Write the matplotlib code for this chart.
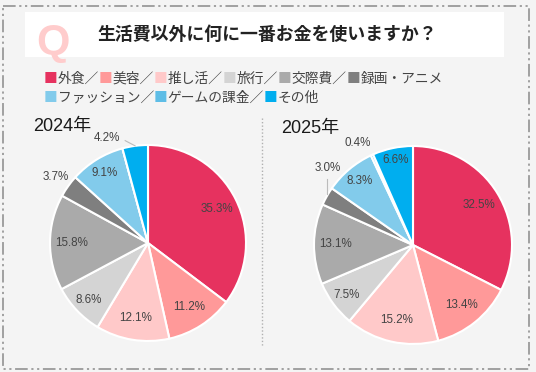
import numpy as np
import matplotlib
matplotlib.use("Agg")
import matplotlib.pyplot as plt
from matplotlib.patches import Rectangle

plt.rcParams['font.family'] = ['Noto Sans CJK JP', 'DejaVu Sans']

# ---------------- data ----------------
categories = ["外食", "美容", "推し活", "旅行", "交際費", "録画・アニメ",
              "ファッション", "ゲームの課金", "その他"]
colors = ["#e6325f", "#ff9999", "#ffc9c9", "#d4d4d4", "#aaaaaa", "#7f7f7f",
          "#82cbeb", "#5ebde6", "#00aeef"]
values_2024 = [35.3, 11.2, 12.1, 8.6, 15.8, 3.7, 9.1, 0.0, 4.2]
values_2025 = [32.5, 13.4, 15.2, 7.5, 13.1, 3.0, 8.3, 0.4, 6.6]
years = ["2024年", "2025年"]
title = "生活費以外に何に一番お金を使いますか？"

W, H = 536, 372
fig = plt.figure(figsize=(W / 100, H / 100), dpi=100, facecolor="#f4f4f4")
ov = fig.add_axes([0, 0, 1, 1])
ov.set_xlim(0, W)
ov.set_ylim(H, 0)
ov.axis("off")
ov.patch.set_alpha(0)

# border
bx0, by0, bx1, by1 = 3, 6, 529, 369
ov.add_patch(Rectangle((bx0, by0), bx1 - bx0, by1 - by0, fill=False,
                       edgecolor="#9a9a9a", lw=1.3,
                       linestyle=(0, (7, 2, 1.2, 2, 1.2, 2))))

# title box
ov.add_patch(Rectangle((25, 12), 479, 45, facecolor="white", edgecolor="none"))
ov.text(53, 43, "Q", fontsize=31, fontweight="bold", color="#ffcccc",
        ha="center", va="center", family=["Liberation Sans", "DejaVu Sans"])
ov.text(97, 35, title, fontsize=12.9, fontweight="bold", color="#222222",
        ha="left", va="center")

# legend
legend_lines = [list(range(0, 6)), list(range(6, 9))]
legend_y = [79, 98]
lfs = 9.9
for line, y in zip(legend_lines, legend_y):
    prev = None
    for j, i in enumerate(line):
        sep = "／" if j < len(line) - 1 else ""
        if prev is None:
            prev = ov.text(44, y, "■", color=colors[i], fontsize=lfs,
                           ha="left", va="center")
        else:
            prev = ov.annotate("■", xy=(1, 0), xycoords=prev, color=colors[i],
                               fontsize=lfs, ha="left", va="bottom")
        prev = ov.annotate(categories[i] + sep, xy=(1, 0), xycoords=prev,
                           color="#444444", fontsize=lfs, ha="left", va="bottom")

# divider
ov.plot([262, 262], [118, 347], color="#b0b0b0", lw=1.0, linestyle=(0, (1, 1.5)))

# pies
pie_specs = [
    dict(vals=values_2024, cx=148, cy=243, r=98, year=years[0], ylab=(33, 126)),
    dict(vals=values_2025, cx=413, cy=245, r=99, year=years[1], ylab=(281, 129)),
]
lab_fs = 8.4
lab_family = ["Liberation Sans", "DejaVu Sans"]

for k, spec in enumerate(pie_specs):
    cx, cy, r = spec["cx"], spec["cy"], spec["r"]
    ax = fig.add_axes([(cx - r) / W, (H - cy - r) / H, 2 * r / W, 2 * r / H])
    wedges, _ = ax.pie(spec["vals"], colors=colors, startangle=90,
                       counterclock=False, radius=1,
                       wedgeprops=dict(edgecolor="white", linewidth=1.5))
    ax.set_xlim(-1, 1)
    ax.set_ylim(-1, 1)
    ax.set_aspect("equal")
    ax.axis("off")
    ov.text(spec["ylab"][0], spec["ylab"][1], spec["year"], fontsize=13,
            color="#1a1a1a", ha="left", va="center",
            family=lab_family + ["Noto Sans CJK JP"])

    for i, (w, v) in enumerate(zip(wedges, spec["vals"])):
        if v <= 0:
            continue
        mid = np.deg2rad((w.theta1 + w.theta2) / 2)
        txt = f"{v:.1f}%"
        if k == 0 and i == 5:
            ax.text(1.16 * np.cos(mid), 1.16 * np.sin(mid), txt, fontsize=lab_fs,
                    color="#444444", ha="center", va="center", family=lab_family)
        elif k == 0 and i == 8:
            a2 = mid + np.deg2rad(14)
            ax.text(1.15 * np.cos(a2), 1.15 * np.sin(a2), txt, fontsize=lab_fs,
                    color="#444444", ha="center", va="center", family=lab_family)
            a3 = mid + np.deg2rad(5)
            ax.plot([np.cos(mid), 1.07 * np.cos(a3)], [np.sin(mid), 1.07 * np.sin(a3)],
                    color="#bbbbbb", lw=0.8, clip_on=False)
        elif k == 1 and i == 5:
            x0, y0 = np.cos(mid), 1.04 * np.sin(mid)
            ax.plot([x0, x0], [y0, y0 + 0.15], color="#bbbbbb", lw=0.8, clip_on=False)
            ax.text(x0 + 0.01, y0 + 0.27, txt, fontsize=lab_fs, color="#444444",
                    ha="center", va="center", family=lab_family)
        elif k == 1 and i == 7:
            a2 = mid + np.deg2rad(4)
            ax.text(1.17 * np.cos(a2), 1.17 * np.sin(a2), txt, fontsize=lab_fs,
                    color="#444444", ha="center", va="center", family=lab_family)
        else:
            d = 0.78
            if v < 10:
                d = 0.84
            if k == 1 and i == 8:
                d = 0.88
            ax.text(d * np.cos(mid), d * np.sin(mid), txt, fontsize=lab_fs,
                    color="#444444", ha="center", va="center", family=lab_family)

fig.savefig("out.png", dpi=100, facecolor=fig.get_facecolor())
